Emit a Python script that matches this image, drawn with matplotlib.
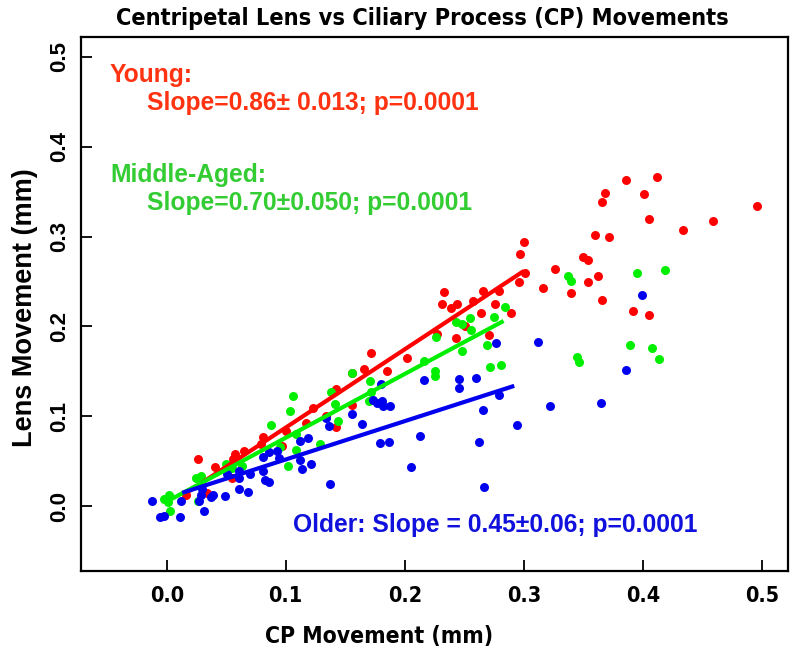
import numpy as np
import matplotlib
matplotlib.use('Agg')
import matplotlib.pyplot as plt
from matplotlib import font_manager as fm

# points (CP movement, lens movement), mm
young = [(0.016, 0.013), (0.026, 0.053), (0.034, 0.015), (0.041, 0.044),
         (0.055, 0.032), (0.056, 0.053), (0.057, 0.058), (0.065, 0.061),
         (0.079, 0.069), (0.081, 0.077), (0.097, 0.067), (0.100, 0.084),
         (0.117, 0.093), (0.123, 0.109), (0.134, 0.100), (0.142, 0.088),
         (0.142, 0.130), (0.156, 0.113), (0.156, 0.148), (0.166, 0.153),
         (0.172, 0.171), (0.185, 0.151), (0.202, 0.165), (0.227, 0.192),
         (0.231, 0.225), (0.233, 0.238), (0.239, 0.220), (0.243, 0.187),
         (0.244, 0.225), (0.251, 0.201), (0.257, 0.228), (0.264, 0.215),
         (0.266, 0.240), (0.271, 0.191), (0.276, 0.225), (0.279, 0.240),
         (0.289, 0.215), (0.296, 0.250), (0.297, 0.281), (0.300, 0.294),
         (0.301, 0.259), (0.316, 0.243), (0.326, 0.264), (0.340, 0.237),
         (0.350, 0.277), (0.354, 0.274), (0.354, 0.250), (0.360, 0.302),
         (0.362, 0.256), (0.366, 0.339), (0.366, 0.230), (0.368, 0.349),
         (0.372, 0.299), (0.386, 0.363), (0.392, 0.217), (0.401, 0.347),
         (0.405, 0.319), (0.405, 0.213), (0.412, 0.366), (0.434, 0.307),
         (0.459, 0.317), (0.496, 0.334)]

middle = [(-0.002, 0.008), (0.002, 0.013), (0.001, 0.005), (0.003, -0.005),
          (0.025, 0.031), (0.029, 0.034), (0.026, 0.006), (0.050, 0.047),
          (0.055, 0.043), (0.063, 0.045), (0.088, 0.090), (0.095, 0.066),
          (0.102, 0.045), (0.104, 0.106), (0.106, 0.123), (0.109, 0.063),
          (0.109, 0.080), (0.129, 0.069), (0.138, 0.127), (0.141, 0.114),
          (0.144, 0.095), (0.156, 0.148), (0.171, 0.139), (0.172, 0.127),
          (0.170, 0.117), (0.216, 0.162), (0.225, 0.151), (0.225, 0.145),
          (0.226, 0.188), (0.243, 0.205), (0.248, 0.203), (0.255, 0.209),
          (0.256, 0.196), (0.248, 0.173), (0.269, 0.179), (0.272, 0.155),
          (0.281, 0.157), (0.275, 0.211), (0.284, 0.222), (0.337, 0.256),
          (0.340, 0.251), (0.345, 0.166), (0.346, 0.160), (0.389, 0.179),
          (0.395, 0.259), (0.408, 0.176), (0.414, 0.164), (0.419, 0.263)]

older = [(-0.012, 0.006), (-0.006, -0.012), (-0.002, -0.011), (0.011, -0.012),
         (0.012, 0.006), (0.027, 0.006), (0.029, 0.013), (0.030, 0.019),
         (0.031, -0.005), (0.037, 0.010), (0.039, 0.013), (0.049, 0.011),
         (0.051, 0.036), (0.061, 0.031), (0.061, 0.039), (0.061, 0.019),
         (0.068, 0.016), (0.070, 0.036), (0.081, 0.039), (0.083, 0.029),
         (0.086, 0.027), (0.081, 0.055), (0.086, 0.060), (0.093, 0.062),
         (0.094, 0.054), (0.112, 0.073), (0.119, 0.076), (0.112, 0.052),
         (0.114, 0.041), (0.121, 0.047), (0.137, 0.025), (0.134, 0.098),
         (0.136, 0.089), (0.156, 0.103), (0.164, 0.092), (0.180, 0.136),
         (0.173, 0.118), (0.177, 0.115), (0.181, 0.117), (0.182, 0.112),
         (0.188, 0.112), (0.179, 0.070), (0.187, 0.071), (0.205, 0.044),
         (0.213, 0.078), (0.216, 0.141), (0.246, 0.142), (0.246, 0.132),
         (0.260, 0.143), (0.266, 0.107), (0.262, 0.071), (0.267, 0.021),
         (0.279, 0.124), (0.277, 0.182), (0.294, 0.090), (0.312, 0.183),
         (0.322, 0.112), (0.365, 0.115), (0.386, 0.152), (0.399, 0.235)]

# fitted lines: slope, intercept, x range
fit_slope = [0.871, 0.710, 0.4265]
fit_icpt = [0.0004, 0.0052, 0.0094]
fit_xmin = [0.015, 0.004, 0.013]
fit_xmax = [0.300, 0.283, 0.292]

ticks = [0.0, 0.1, 0.2, 0.3, 0.4, 0.5]
tick_labels = ['0.0', '0.1', '0.2', '0.3', '0.4', '0.5']

point_cols = ['#ff0000', '#00ee00', '#0000ee']
text_cols = ['#ff3311', '#33cc33', '#1111dd']


def find_narrow_bold():
    # look for an Arial Narrow like bold face, if any is installed
    for f in fm.fontManager.ttflist:
        nm = f.name.lower()
        is_narrow = ('narrow' in nm or 'condensed' in nm
                     or f.stretch in ('condensed', 'semi-condensed', 500))
        if is_narrow and f.weight in ('bold', 700) and f.style == 'normal':
            return fm.FontProperties(fname=f.fname)
    return None


narrow_fp = find_narrow_bold()
if narrow_fp is not None:
    def nfont(size):
        fp = narrow_fp.copy()
        fp.set_size(size)
        return fp
else:
    def nfont(size):
        return fm.FontProperties(family=['Liberation Sans', 'DejaVu Sans'],
                                 weight='bold', size=size * 0.86)

wide = ['Liberation Sans', 'DejaVu Sans']

fig = plt.figure(figsize=(8, 6.53), dpi=100)
ax = fig.add_axes([81 / 800, 82 / 653, 707 / 800, 534 / 653])

for grp, col in zip([young, middle, older], point_cols):
    arr = np.array(grp)
    ax.scatter(arr[:, 0], arr[:, 1], s=42, color=col, linewidths=0, zorder=2)

for i, col in enumerate(point_cols):
    xs = np.array([fit_xmin[i], fit_xmax[i]])
    ax.plot(xs, fit_icpt[i] + fit_slope[i] * xs, color=col, lw=3,
            solid_capstyle='butt', zorder=3)

ax.set_xlim(-0.072, 0.522)
ax.set_ylim(-0.072, 0.522)
ax.set_xticks(ticks)
ax.set_xticklabels(tick_labels, fontproperties=nfont(15.5))
ax.set_yticks(ticks)
ax.set_yticklabels(tick_labels, family=wide, weight='bold', fontsize=16,
                   rotation=90, va='center')
ax.tick_params(direction='in', length=8, width=1.3)
ax.tick_params(axis='x', pad=11)
ax.tick_params(axis='y', pad=8)
for sp in ax.spines.values():
    sp.set_linewidth(1.6)

fig.text(379 / 800, 1 - 636 / 653, 'CP Movement (mm)',
         fontproperties=nfont(16.5), ha='center', va='center')
fig.text(25 / 800, 1 - 308 / 653, 'Lens Movement (mm)', family=wide,
         weight='bold', fontsize=19.5, rotation=90, ha='center', va='center')
fig.text(422 / 800, 1 - 18 / 653,
         'Centripetal Lens vs Ciliary Process (CP) Movements',
         fontproperties=nfont(16.8), ha='center', va='center')

tx = dict(family=wide, weight='bold', fontsize=17.7, va='center')
fig.text(110 / 800, 1 - 75 / 653, 'Young:', color=text_cols[0], **tx)
fig.text(147 / 800, 1 - 103 / 653, 'Slope=0.86\u00b1 0.013; p=0.0001',
         color=text_cols[0], **tx)
fig.text(110 / 800, 1 - 175 / 653, 'Middle-Aged:', color=text_cols[1], **tx)
fig.text(147 / 800, 1 - 203 / 653, 'Slope=0.70\u00b10.050; p=0.0001',
         color=text_cols[1], **tx)
fig.text(293 / 800, 1 - 525 / 653, 'Older: Slope = 0.45\u00b10.06; p=0.0001',
         color=text_cols[2], **tx)

fig.savefig('out.png', dpi=100)
